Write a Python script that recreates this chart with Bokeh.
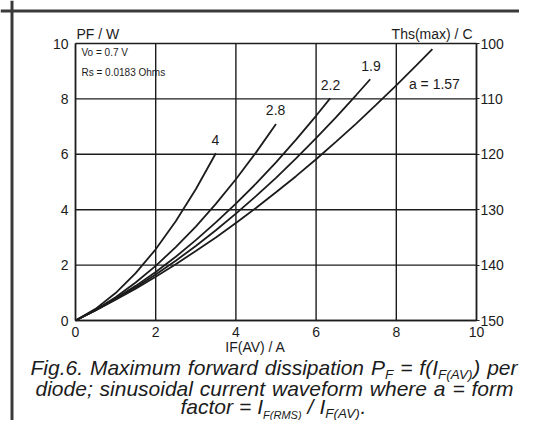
from bokeh.plotting import figure
from bokeh.models import Range1d, LinearAxis, FixedTicker, Label, Span
from bokeh.embed import file_html
from bokeh.resources import INLINE

# ---- data (IF(AV) in A, PF in W) ----
x_ticks = [0, 2, 4, 6, 8, 10]
y_ticks = [0, 2, 4, 6, 8, 10]
ths_ticks = [100, 110, 120, 130, 140, 150]

x_a4 = [0, 0.5, 1, 1.5, 2, 2.5, 3, 3.5]
y_a4 = [0, 0.42, 0.99, 1.71, 2.57, 3.58, 4.74, 6.04]
x_a28 = [0, 0.5, 1, 1.5, 2, 2.5, 3, 3.5, 4, 4.5, 5]
y_a28 = [0, 0.39, 0.84, 1.37, 1.97, 2.65, 3.39, 4.21, 5.10, 6.06, 7.09]
x_a22 = [0, 0.5, 1, 1.5, 2, 2.5, 3, 3.5, 4, 4.5, 5, 5.5, 6, 6.35]
y_a22 = [0, 0.37, 0.79, 1.25, 1.75, 2.30, 2.90, 3.54, 4.22, 4.94, 5.71, 6.53, 7.39, 8.02]
x_a19 = [0, 0.5, 1, 1.5, 2, 2.5, 3, 3.5, 4, 4.5, 5, 5.5, 6, 6.5, 7, 7.35]
y_a19 = [0, 0.37, 0.77, 1.20, 1.66, 2.16, 2.69, 3.26, 3.86, 4.49, 5.15, 5.85, 6.58, 7.34, 8.14, 8.71]
x_a157 = [0, 0.5, 1, 1.5, 2, 2.5, 3, 3.5, 4, 4.5, 5, 5.5, 6, 6.5, 7, 7.5, 8, 8.5, 8.9]
y_a157 = [0, 0.36, 0.75, 1.15, 1.58, 2.03, 2.51, 3.00, 3.52, 4.06, 4.63, 5.21, 5.82, 6.46, 7.11, 7.79, 8.49, 9.21, 9.80]

curve_labels = ["4", "2.8", "2.2", "1.9", "a = 1.57"]
curve_label_x = [3.49, 4.99, 6.36, 7.37, 8.95]
curve_label_y = [6.5, 7.61, 8.51, 9.2, 8.55]

# ---- geometry (pixels of the rendered picture) ----
W, H = 519, 420
X0_IMG, X10_IMG = 75.0, 476.0     # picture x of IF = 0 and IF = 10
Y0_IMG, Y10_IMG = 320.0, 43.0     # picture y of PF = 0 and PF = 10
XS = (X10_IMG - X0_IMG) / (x_ticks[-1] - x_ticks[0])
YS = (Y0_IMG - Y10_IMG) / (y_ticks[-1] - y_ticks[0])


def ix(px):
    return x_ticks[0] + (px - X0_IMG) / XS


def iy(py):
    return y_ticks[0] + (Y0_IMG - py) / YS


INK = "#1c1c1c"
FONT = "Liberation Sans"

p = figure(width=W, height=H,
           x_range=Range1d(ix(0), ix(W)),
           y_range=Range1d(iy(H), iy(0)),
           output_backend="svg", toolbar_location=None, min_border=0,
           x_axis_location=None, y_axis_location=None)
p.background_fill_color = "white"
p.border_fill_color = "white"
p.outline_line_color = None
p.xgrid.visible = False
p.ygrid.visible = False

# right-hand scale: Ths(max) / C, 150 at PF=0 and 100 at PF=10
ths_slope = (ths_ticks[0] - ths_ticks[-1]) / (y_ticks[-1] - y_ticks[0])
yr = p.y_range
p.extra_y_ranges = {"ths": Range1d(ths_ticks[-1] + ths_slope * (yr.start - y_ticks[0]),
                                   ths_ticks[-1] + ths_slope * (yr.end - y_ticks[0]))}


def style_axis(ax, size="14px"):
    ax.minor_tick_line_color = None
    ax.axis_line_color = INK
    ax.axis_line_width = 1.5
    ax.major_label_text_font = FONT
    ax.major_label_text_font_size = size
    ax.major_label_text_color = INK


xax = LinearAxis(ticker=FixedTicker(ticks=x_ticks), fixed_location=y_ticks[0],
                 bounds=(x_ticks[0], x_ticks[-1]))
style_axis(xax)
xax.major_tick_line_color = None
xax.major_tick_out = 0
xax.major_tick_in = 0
xax.major_label_standoff = 6
p.add_layout(xax, "below")

yax = LinearAxis(ticker=FixedTicker(ticks=y_ticks), fixed_location=x_ticks[0],
                 bounds=(y_ticks[0], y_ticks[-1]))
style_axis(yax)
yax.major_tick_line_color = None
yax.major_tick_out = 0
yax.major_tick_in = 0
yax.major_label_standoff = 7
p.add_layout(yax, "left")

rax = LinearAxis(y_range_name="ths", ticker=FixedTicker(ticks=ths_ticks),
                 fixed_location=x_ticks[-1], bounds=(ths_ticks[0], ths_ticks[-1]))
style_axis(rax)
rax.major_tick_line_color = INK
rax.major_tick_out = 3
rax.major_tick_in = 0
rax.major_label_standoff = 1
p.add_layout(rax, "right")

# grid (and box) drawn only inside the chart area
nx, ny = len(x_ticks), len(y_ticks)
p.segment(x0=x_ticks, y0=[y_ticks[0]] * nx, x1=x_ticks, y1=[y_ticks[-1]] * nx,
          line_color=INK, line_width=1.4)
p.segment(x0=[x_ticks[0]] * ny, y0=y_ticks, x1=[x_ticks[-1]] * ny, y1=y_ticks,
          line_color=INK, line_width=1.4)

for xs, ys in ((x_a4, y_a4), (x_a28, y_a28), (x_a22, y_a22), (x_a19, y_a19), (x_a157, y_a157)):
    p.line(xs, ys, line_color=INK, line_width=1.8)

# the figure's frame (scan border at left and top)
p.add_layout(Span(location=ix(11.5), dimension="height", line_color="#3a3a3a", line_width=3))
p.add_layout(Span(location=iy(10.5), dimension="width", line_color="#3a3a3a", line_width=3))


def lab(text, x, y, size="14px", align="left", baseline="middle", style="normal"):
    p.add_layout(Label(x=x, y=y, text=text, text_align=align, text_baseline=baseline,
                       text_font=FONT, text_font_size=size, text_font_style=style,
                       text_color=INK))


for t, lx, ly in zip(curve_labels, curve_label_x, curve_label_y):
    lab(t, lx, ly, align="center")

lab("Vo = 0.7 V", ix(81), iy(52.3), size="10px")
lab("Rs = 0.0183 Ohms", ix(81), iy(71.7), size="10px")
lab("PF / W", ix(76), iy(33.3))
lab("Ths(max) / C", ix(472), iy(33.3), align="right")
lab("IF(AV) / A", ix(255), iy(346), align="center")

# ---- caption: justified lines, words with subscripts ----
# advance widths of Liberation Sans / Arial (1/1000 em)
ADV = {" ": 278, ".": 278, "(": 333, ")": 333, "/": 278, ";": 278, "=": 584,
       "A": 667, "F": 611, "I": 278, "M": 833, "P": 667, "R": 722, "S": 667, "V": 667,
       "a": 556, "c": 500, "d": 556, "e": 556, "f": 278, "g": 556, "h": 556, "i": 222,
       "l": 222, "m": 833, "n": 556, "o": 556, "p": 556, "r": 333, "s": 500, "t": 278,
       "u": 556, "v": 500, "w": 722, "x": 500}
for dgt in "0123456789":
    ADV[dgt] = 556

BIG, SUBS, SUBR = 21, 13.5, 11
DROP = 4
CAP = 0.716          # cap height of the font, in em


def width(text, size):
    return sum(ADV.get(c, 556) for c in text) * size / 1000.0


def N(t):
    return [(t, BIG, 0)]


line1 = [N("Fig.6."), N("Maximum"), N("forward"), N("dissipation"),
         [("P", BIG, 0), ("F", SUBS, DROP)], N("="),
         [("f(I", BIG, 0), ("F(AV)", SUBS, DROP), (")", BIG, 0)], N("per")]
line2 = [N("diode;"), N("sinusoidal"), N("current"), N("waveform"), N("where"),
         N("a"), N("="), N("form")]
line3 = [N("factor"), N("="), [("I", BIG, 0), ("F(RMS)", SUBR, DROP)], N("/"),
         [("I", BIG, 0), ("F(AV)", SUBS, DROP), (".", BIG, 0)]]

# (tokens, left x, right x or None, baseline y, gap when not justified)
caption_lines = [(line1, 30, 517, 375, None), (line2, 35, 513, 396, None),
                 (line3, 180, None, 414, 6.0)]

for tokens, left, right, base, gap in caption_lines:
    tw = [sum(width(t, s) for t, s, _ in tok) for tok in tokens]
    if right is not None:
        gap = (right - left - sum(tw)) / (len(tokens) - 1)
    x = left
    for tok, w in zip(tokens, tw):
        cx = x
        for t, s, dy in tok:
            mid = base + dy - CAP * s / 2.0
            lab(t, ix(cx), iy(mid), size="%spx" % s, baseline="middle", style="italic")
            cx += width(t, s)
        x += w + gap

open("out.html", "w").write(file_html(p, INLINE))
